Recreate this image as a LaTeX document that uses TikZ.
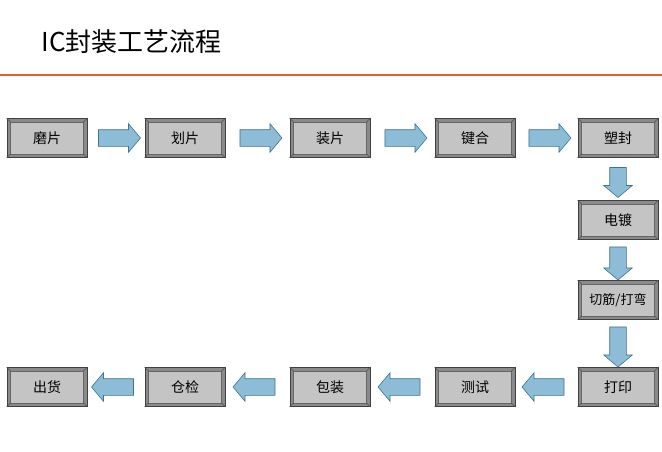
\documentclass[tikz,border=0pt]{standalone}
\usepackage{fontspec}
\newfontfamily\cjk{Noto Sans CJK SC}
\usetikzlibrary{shapes.arrows,calc}
\definecolor{boxfill}{HTML}{C4C4C4}
\definecolor{bevel}{HTML}{8A8A8A}
\definecolor{arrfill}{HTML}{8DBDD6}
\definecolor{arrline}{HTML}{3F7390}
\definecolor{rule}{HTML}{E2622A}
\tikzset{
 x=1pt,y=-1pt,
 bx/.style={minimum width=80pt,minimum height=39pt,draw=black!75,fill=bevel,line width=0.8pt,inner sep=0pt,font=\cjk\fontsize{14}{14}\selectfont},
 flow/.style={single arrow,fill=arrfill,draw=arrline,line width=0.6pt,minimum height=42pt,inner xsep=0pt,inner ysep=8pt,single arrow head extend=6pt,single arrow tip angle=100,anchor=center},
}
\newcommand\bbox[4]{%
 \node[bx] (#1) at (#2,#3) {};
 \fill[boxfill,draw=black!60,line width=0.4pt] ($(#1.north west)+(4,4)$) rectangle ($(#1.south east)+(-4,-4)$);
 \draw[black!70,line width=0.5pt] (#1.north west)--++(4,4) (#1.north east)--++(-4,4) (#1.south west)--++(4,-4) (#1.south east)--++(-4,-4);
 \node[font=\cjk\fontsize{14}{14}\selectfont] at (#1) {#4};}
\begin{document}
\begin{tikzpicture}
\useasboundingbox[fill=white] (0,0) rectangle (662,452);
\node[anchor=west,font=\cjk\fontsize{26}{26}\selectfont] (title) at (38,42) {IC封装工艺流程};
\draw[rule,line width=2pt] (0,75)--(662,75);
\bbox{a}{47}{138}{磨片}
\bbox{b}{185}{138}{划片}
\bbox{c}{330}{138}{装片}
\bbox{d}{475}{138}{键合}
\bbox{e}{618}{138}{塑封}
\bbox{f}{618}{220}{电镀}
\bbox{g}{618}{300}{\fontsize{13}{13}\selectfont 切筋/打弯}
\bbox{h}{618}{387}{打印}
\bbox{i}{475}{387}{测试}
\bbox{j}{330}{387}{包装}
\bbox{k}{185}{387}{仓检}
\bbox{l}{47}{387}{出货}
\node[flow] (ab) at ($(a)!0.5!(b)$) {};
\node[flow] (bc) at ($(b)!0.5!(c)$) {};
\node[flow] (cd) at ($(c)!0.5!(d)$) {};
\node[flow] (de) at ($(d)!0.5!(e)$) {};
\node[flow,rotate=-90,minimum height=30pt] (ef) at ($(e.south)!0.5!(f.north)$) {};
\node[flow,rotate=-90,minimum height=33pt] (fg) at ($(f.south)!0.5!(g.north)$) {};
\node[flow,rotate=-90,minimum height=40pt] (gh) at ($(g.south)!0.5!(h.north)$) {};
\node[flow,rotate=180] (hi) at ($(h)!0.5!(i)$) {};
\node[flow,rotate=180] (ij) at ($(i)!0.5!(j)$) {};
\node[flow,rotate=180] (jk) at ($(j)!0.5!(k)$) {};
\node[flow,rotate=180] (kl) at ($(k)!0.5!(l)$) {};
\end{tikzpicture}
\end{document}
